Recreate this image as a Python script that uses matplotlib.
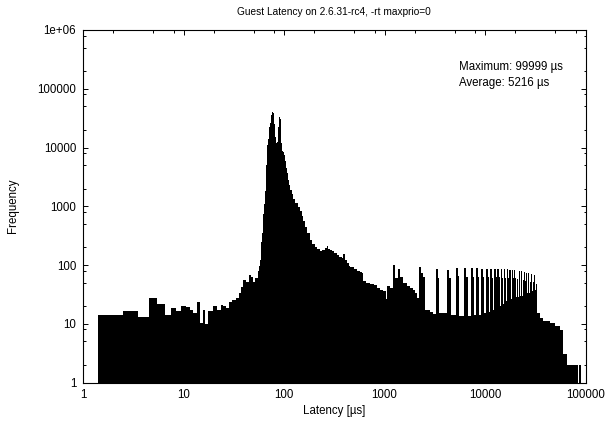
import matplotlib
matplotlib.use("Agg")
import matplotlib.pyplot as plt
from matplotlib.ticker import FixedLocator, NullFormatter

# ---------------- data ----------------
# integer-latency bins 2..110 us
low_latency = list(range(2, 111))
low_count = [14.2, 16.2, 13.1, 27, 21.8, 14.2, 18.2, 16.2, 20, 19.5,        # 2-11
             17.2, 15.1, 23.8, 10.2, 17.2, 10, 16.2, 16.2, 19.7, 19.7,       # 12-21
             17, 17, 21, 19.7, 19.7, 18.5, 18.5, 23.8, 23.8, 25.5,           # 22-31
             25.5, 25.5, 27, 27, 33, 33, 43, 43, 56, 56,                     # 32-41
             52, 52, 52, 67, 67, 62, 62, 62, 52, 52,                         # 42-51
             59, 59, 59, 59, 80, 95, 120, 180, 250, 350,                     # 52-61
             500, 750, 1100, 1800, 3200, 5000, 8000, 11000, 14000, 18000,    # 62-71
             22000, 26000, 30000, 36000, 41200, 40000, 42000, 38000, 25000, 18000,  # 72-81
             15000, 13000, 12000, 11600, 12500, 16000, 22000, 30000, 33500, 33000,  # 82-91
             31000, 20000, 12000, 9000, 9000, 8800, 8600, 8500, 8400, 7500,  # 92-101
             6500, 6000, 5500, 5000, 4500, 4200, 3700, 3300, 3000]           # 102-110
first_edge = 1.4

# envelope of the dense bins (left edge in us, count)
mid_edge = [110.5, 113, 116, 120, 124, 130, 137, 144, 150, 156,
            162, 170, 181, 190, 203, 215, 228, 240, 253, 266,
            277, 287, 300, 315, 334, 355, 375, 389, 404, 421,
            440, 454, 472, 500, 529, 570, 600, 615, 660, 718,
            780, 836, 900, 973, 1035, 1065, 1130, 1224, 1281, 1371,
            1426, 1538, 1662, 1793, 1935, 2011, 2091, 2219, 2291, 2432,
            2530, 2837, 3060]
mid_count = [2800, 2300, 1900, 1600, 1350, 1150, 980, 820, 680, 560,
             450, 350, 265, 225, 205, 185, 175, 182, 195, 208,
             190, 180, 170, 160, 148, 138, 130, 153, 121, 107,
             98, 94, 91, 84, 80, 77, 72, 54, 50, 48,
             45, 41, 38, 36, 26, 44, 40, 100, 59, 84,
             63, 50, 44, 41, 38, 33, 27, 94, 72, 63,
             17, 16, 14.5]

# periodic spikes (~1 ms period)
comb_start = [3253, 4214, 5130, 6220, 7210, 8130, 9120, 10230, 11220, 12300,
              13270, 14320, 15460, 16480, 17500, 18530, 19550, 20580, 21600, 22630,
              23650, 24680, 25700, 26730, 27750, 28780, 29800, 30830, 31850, 32880]
comb_peak = [85, 82, 90, 88, 88, 88, 86, 86, 85, 86,
             86, 85, 85, 84, 83, 82, 82, 80, 78, 78,
             76, 75, 74, 72, 72, 70, 70, 68, 65, 56]
comb_valley = [15, 14, 13.5, 13.5, 14, 14, 15, 16, 17, 18,
               20, 22, 24, 25, 26, 27, 28, 29, 30, 30,
               31, 32, 33, 34, 35, 36, 37, 38, 40, 15]

# tail after the spikes
tail_edge = [33400, 35250, 38020, 44330, 49800, 55740, 60130, 65000, 84800, 87000]
tail_count = [15, 12.5, 11, 10.5, 9, 7.9, 3, 2, 0.1, 2]
last_edge = 89600

title = "Guest Latency on 2.6.31-rc4, -rt maxprio=0"
xlabel = "Latency [\u00b5s]"
ylabel = "Frequency"
notes = ["Maximum: 99999 \u00b5s", "Average: 5216 \u00b5s"]
xticks = [1, 10, 100, 1000, 10000, 100000]
xticklabels = ["1", "10", "100", "1000", "10000", "100000"]
yticks = [1, 10, 100, 1000, 10000, 100000, 1000000]
yticklabels = ["1", "10", "100", "1000", "10000", "100000", "1e+06"]

# ---------------- build step series ----------------
edges, counts = [], []
for lat, c in zip(low_latency, low_count):
    edges.append(lat - 0.5)
    counts.append(c)
edges[0] = first_edge
edges += mid_edge
counts += mid_count
nexts = comb_start[1:] + [tail_edge[0]]
for s, nxt, p, v in zip(comb_start, nexts, comb_peak, comb_valley):
    top_end = min(s * 1.045, s + 0.45 * (nxt - s))
    sh_end = min(s * 1.08, s + 0.75 * (nxt - s))
    edges += [s, top_end, sh_end]
    counts += [p, max(0.72 * p, v), v]
edges += tail_edge
counts += tail_count
edges.append(last_edge)

# ---------------- plot ----------------
plt.rcParams['font.family'] = ['Liberation Sans', 'DejaVu Sans']
fs = 8.3
fig = plt.figure(figsize=(6.07, 4.21), dpi=100)
ax = fig.add_axes([83 / 607, 1 - 382.5 / 421, 502.5 / 607, 352.5 / 421])
ax.set_xscale('log')
ax.set_yscale('log')
ax.stairs(counts, edges, fill=True, color='black', baseline=0.1, lw=0)
ax.set_xlim(1, 1e5)
ax.set_ylim(1, 1e6)

ax.xaxis.set_major_locator(FixedLocator(xticks))
ax.set_xticklabels(xticklabels)
ax.yaxis.set_major_locator(FixedLocator(yticks))
ax.set_yticklabels(yticklabels)
minor_x = [m * 10 ** k for k in range(0, 5) for m in (2, 5, 8)]
minor_y = [m * 10 ** k for k in range(0, 6) for m in (2, 5, 8)]
ax.xaxis.set_minor_locator(FixedLocator(minor_x))
ax.yaxis.set_minor_locator(FixedLocator(minor_y))
ax.xaxis.set_minor_formatter(NullFormatter())
ax.yaxis.set_minor_formatter(NullFormatter())
ax.tick_params(which='both', direction='in', top=True, right=True,
               width=0.7, labelsize=fs, colors='black')
ax.tick_params(which='major', length=3.6)
ax.tick_params(which='minor', length=1.8)
ax.tick_params(axis='x', which='major', pad=5)
ax.tick_params(axis='y', which='major', pad=5)
for sp in ax.spines.values():
    sp.set_linewidth(0.8)
    sp.set_color('black')

fig.text(334 / 607, 1 - 12 / 421, title, ha='center', va='center', fontsize=7.3)
fig.text(334 / 607, 1 - 411 / 421, xlabel, ha='center', va='center', fontsize=fs)
fig.text(13 / 607, 1 - 206 / 421, ylabel, ha='center', va='center',
         rotation=90, fontsize=fs)
fig.text(459 / 607, 1 - 67 / 421, notes[0], ha='left', va='center', fontsize=fs)
fig.text(459 / 607, 1 - 83 / 421, notes[1], ha='left', va='center', fontsize=fs)

fig.savefig("out.png", dpi=100)
